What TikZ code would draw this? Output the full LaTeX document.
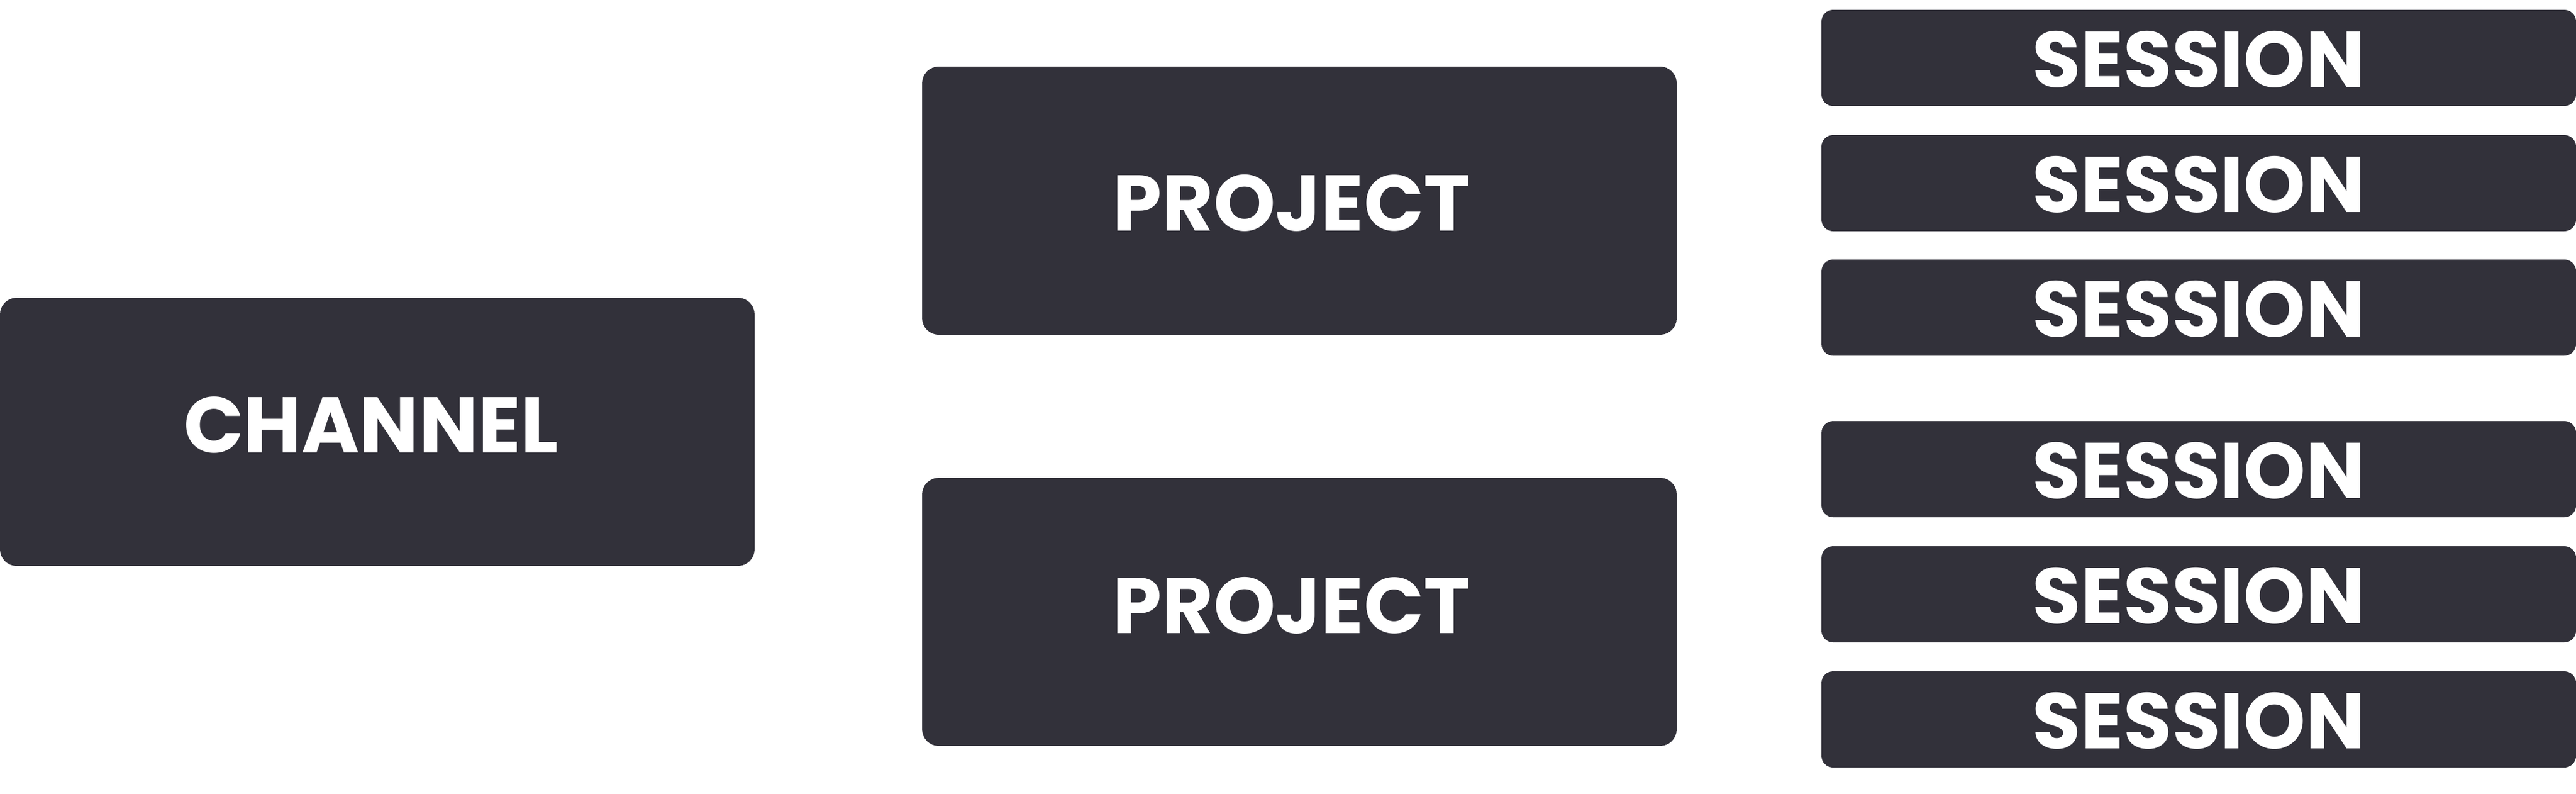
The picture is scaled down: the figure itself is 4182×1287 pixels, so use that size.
\documentclass[tikz,border=0pt]{standalone}
\usepackage{fontspec}
\setmainfont{Poppins}
\definecolor{boxdark}{RGB}{50,49,58}
% #1 = horizontal shift of the text, #2 = baseline offset from the box centre
\newcommand\boxlabel[3]{\raisebox{#2}[0pt][0pt]{\kern#1\relax\makebox[0pt]{#3}\kern-#1\relax}}
\begin{document}
\begin{tikzpicture}[x=0.25pt,y=-0.25pt,
  boxbase/.style={fill=boxdark, draw=none, inner sep=0pt, text=white,
    font=\fontsize{32pt}{36pt}\selectfont\bfseries, minimum width=306.25pt},
  bigbox/.style={boxbase, minimum height=108.75pt, rounded corners=6.75pt},
  sessionbox/.style={boxbase, minimum height=39pt, rounded corners=4.75pt}]
\useasboundingbox (0,0) rectangle (4182,1287);
\node[bigbox] (channel) at (612.5,700.5) {\boxlabel{-2.5pt}{-8.375pt}{CHANNEL}};
\node[bigbox] (project1) at (2109.5,325.5) {\boxlabel{-3.1pt}{-12.125pt}{PROJECT}};
\node[bigbox] (project2) at (2109.5,992.5) {\boxlabel{-3.1pt}{-8.625pt}{PROJECT}};
\node[sessionbox] (s1) at (3569.5,94) {\boxlabel{0pt}{-11.75pt}{SESSION}};
\node[sessionbox] (s2) at (3569.5,297) {\boxlabel{0pt}{-11.75pt}{SESSION}};
\node[sessionbox] (s3) at (3569.5,499) {\boxlabel{0pt}{-11.75pt}{SESSION}};
\node[sessionbox] (s4) at (3569.5,761) {\boxlabel{0pt}{-11.75pt}{SESSION}};
\node[sessionbox] (s5) at (3569.5,964) {\boxlabel{0pt}{-11.75pt}{SESSION}};
\node[sessionbox] (s6) at (3569.5,1167) {\boxlabel{0pt}{-11.75pt}{SESSION}};
\end{tikzpicture}
\end{document}
